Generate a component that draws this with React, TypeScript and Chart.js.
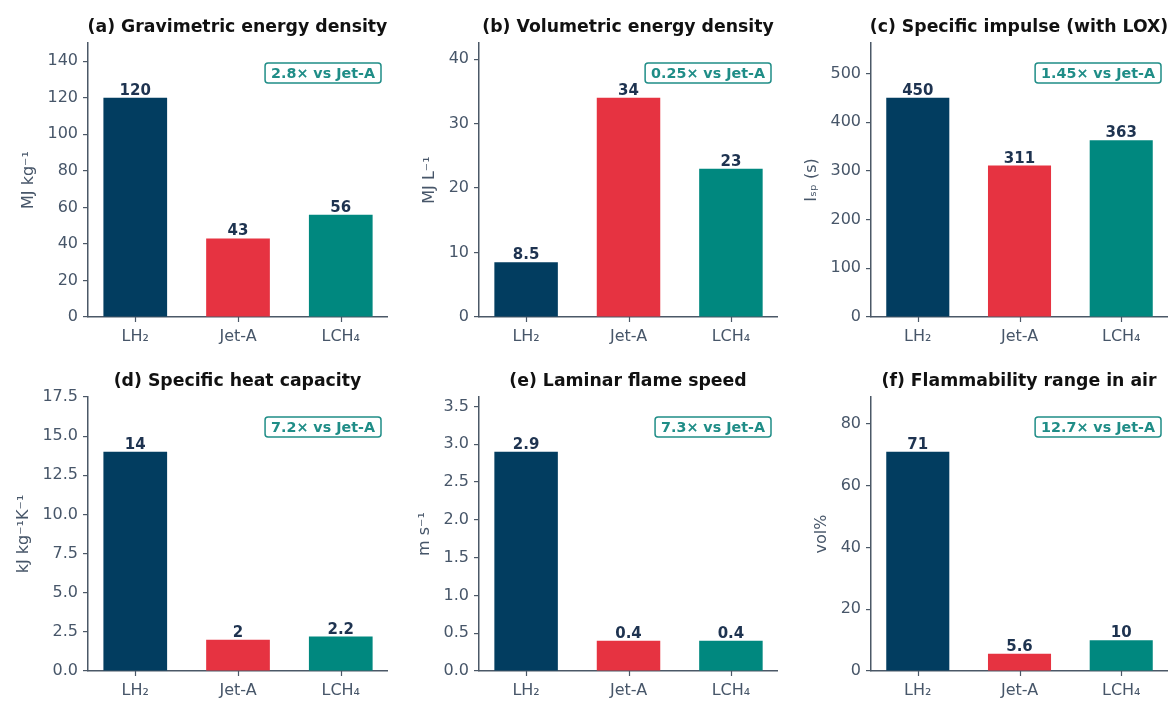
import React, { useEffect, useRef } from "react";
import { Chart, registerables } from "chart.js";

Chart.register(...registerables);

// ---------- data ----------
const categories = ["LH₂", "Jet-A", "LCH₄"];
const gravimetricValues = [120, 43, 56];
const volumetricValues = [8.5, 34, 23];
const impulseValues = [450, 311, 363];
const heatCapacityValues = [14, 2, 2.2];
const flameSpeedValues = [2.9, 0.4, 0.4];
const flammabilityValues = [71, 5.6, 10];

const panelTitles = [
  "(a) Gravimetric energy density",
  "(b) Volumetric energy density",
  "(c) Specific impulse (with LOX)",
  "(d) Specific heat capacity",
  "(e) Laminar flame speed",
  "(f) Flammability range in air",
];
const yAxisTitles = ["MJ kg⁻¹", "MJ L⁻¹", "Iₛₚ (s)", "kJ kg⁻¹K⁻¹", "m s⁻¹", "vol%"];
const ratioLabels = [
  "2.8× vs Jet-A",
  "0.25× vs Jet-A",
  "1.45× vs Jet-A",
  "7.2× vs Jet-A",
  "7.3× vs Jet-A",
  "12.7× vs Jet-A",
];
const yTickSteps = [20, 10, 100, 2.5, 0.5, 20];
const yTickDecimals = [0, 0, 0, 1, 1, 0];

const panelValues = [
  gravimetricValues,
  volumetricValues,
  impulseValues,
  heatCapacityValues,
  flameSpeedValues,
  flammabilityValues,
];

// ---------- style / layout ----------
const BAR_COLORS = ["#023d60", "#e63341", "#00887f"];
const AXIS_COLOR = "#4b5867";
const TICK_TEXT = "#475669";
const VALUE_TEXT = "#1e3350";
const ACCENT = "#1f8d87";
const FONT = "'DejaVu Sans', sans-serif";

const COLS = [
  { cellLeft: 0, cellRight: 389, plotLeft: 88, plotRight: 387 },
  { cellLeft: 390, cellRight: 779, plotLeft: 479, plotRight: 777 },
  { cellLeft: 780, cellRight: 1169, plotLeft: 871, plotRight: 1167 },
];
const ROWS = [
  { cellTop: 0, cellBottom: 351, plotTop: 43, plotBottom: 317 },
  { cellTop: 351, cellBottom: 702, plotTop: 397, plotBottom: 671 },
];

const X_MIN = -0.46;
const X_MAX = 2.45;
const TICK_LEN = 5;
const TICK_PAD = 5;
const TICK_FONT_SIZE = 16;

function formatValue(v: number): string {
  return String(v);
}

function Panel({ index }: { index: number }) {
  const ref = useRef<HTMLCanvasElement | null>(null);
  const col = COLS[index % 3];
  const row = ROWS[Math.floor(index / 3)];
  const width = col.cellRight - col.cellLeft;
  const height = row.cellBottom - row.cellTop;

  useEffect(() => {
    const canvas = ref.current;
    if (!canvas) return;
    const values = panelValues[index];
    const yMax = Math.max(...values) * 1.25;
    const dec = yTickDecimals[index];

    const decorPlugin = {
      id: "decor" + index,
      afterDatasetsDraw(chart: any) {
        const ctx = chart.ctx as CanvasRenderingContext2D;
        const area = chart.chartArea;
        ctx.save();

        // x tick marks at category centres
        const xScale = chart.scales.x;
        ctx.strokeStyle = AXIS_COLOR;
        ctx.lineWidth = 1.2;
        categories.forEach((_, i) => {
          const px = Math.round(xScale.getPixelForValue(i)) + 0.5;
          ctx.beginPath();
          ctx.moveTo(px, area.bottom);
          ctx.lineTo(px, area.bottom + TICK_LEN);
          ctx.stroke();
        });

        // value labels
        const meta = chart.getDatasetMeta(0);
        ctx.font = `bold 15px ${FONT}`;
        ctx.fillStyle = VALUE_TEXT;
        ctx.textAlign = "center";
        ctx.textBaseline = "alphabetic";
        meta.data.forEach((bar: any, i: number) => {
          ctx.fillText(formatValue(values[i]), bar.x, bar.y - 3);
        });

        // panel title
        ctx.font = `bold 17.3px ${FONT}`;
        ctx.fillStyle = "#111111";
        ctx.fillText(panelTitles[index], (area.left + area.right) / 2, area.top - 11);

        // ratio annotation box
        ctx.font = `bold 14.3px ${FONT}`;
        const label = ratioLabels[index];
        const tw = ctx.measureText(label).width;
        const boxH = 20;
        const boxW = tw + 12;
        const bx = area.right - 6 - boxW;
        const by = area.top + 20;
        ctx.beginPath();
        (ctx as any).roundRect(bx, by, boxW, boxH, 3);
        ctx.fillStyle = "#ffffff";
        ctx.fill();
        ctx.lineWidth = 1.5;
        ctx.strokeStyle = ACCENT;
        ctx.stroke();
        ctx.fillStyle = ACCENT;
        ctx.textBaseline = "middle";
        ctx.fillText(label, bx + boxW / 2, by + boxH / 2 + 1);

        // y-axis title
        const yScale = chart.scales.y;
        ctx.font = `${TICK_FONT_SIZE}px ${FONT}`;
        let maxW = 0;
        yScale.ticks.forEach((t: any) => {
          const s = Number(t.value).toFixed(dec);
          maxW = Math.max(maxW, ctx.measureText(s).width);
        });
        const labelLeft = area.left - TICK_LEN - TICK_PAD - maxW;
        const cx = labelLeft - 19;
        const cy = (area.top + area.bottom) / 2;
        ctx.translate(cx, cy);
        ctx.rotate(-Math.PI / 2);
        ctx.font = `16px ${FONT}`;
        ctx.fillStyle = TICK_TEXT;
        ctx.textAlign = "center";
        ctx.textBaseline = "middle";
        ctx.fillText(yAxisTitles[index], 0, 0);
        ctx.restore();
      },
    };

    const chart = new Chart(canvas, {
      type: "bar",
      data: {
        datasets: [
          {
            data: values.map((v, i) => ({ x: i, y: v })),
            backgroundColor: BAR_COLORS,
            borderWidth: 0,
            barPercentage: 0.62,
            categoryPercentage: 1,
          },
        ],
      },
      options: {
        responsive: false,
        animation: false,
        devicePixelRatio: 1,
        layout: {
          padding: {
            left: 0,
            bottom: 0,
            top: row.plotTop - row.cellTop,
            right: col.cellRight - col.plotRight,
          },
        },
        plugins: {
          legend: { display: false },
          tooltip: { enabled: false },
          title: { display: false },
        },
        scales: {
          x: {
            type: "linear",
            min: X_MIN,
            max: X_MAX,
            offset: false,
            afterBuildTicks(scale: any) {
              scale.ticks = categories.map((_, i) => ({ value: i }));
            },
            grid: {
              display: true,
              offset: false,
              drawOnChartArea: false,
              drawTicks: true,
              tickLength: TICK_LEN,
              color: "rgba(0,0,0,0)",
            },
            border: { display: true, color: AXIS_COLOR, width: 1.5 },
            ticks: {
              color: TICK_TEXT,
              font: { family: FONT, size: TICK_FONT_SIZE },
              padding: 5,
              maxRotation: 0,
              autoSkip: false,
              callback: (v: any) => categories[Math.round(Number(v))] ?? "",
            },
            afterFit(scale: any) {
              scale.height = row.cellBottom - row.plotBottom;
            },
          },
          y: {
            min: 0,
            max: yMax,
            grid: {
              display: true,
              drawOnChartArea: false,
              drawTicks: true,
              tickLength: TICK_LEN,
              color: AXIS_COLOR,
              lineWidth: 1.2,
            },
            border: { display: true, color: AXIS_COLOR, width: 1.5 },
            ticks: {
              stepSize: yTickSteps[index],
              includeBounds: false,
              color: TICK_TEXT,
              font: { family: FONT, size: TICK_FONT_SIZE },
              padding: TICK_PAD,
              callback: (v: any) => Number(v).toFixed(dec),
            },
            afterFit(scale: any) {
              scale.width = col.plotLeft - col.cellLeft;
            },
          },
        },
      },
      plugins: [decorPlugin],
    } as any);

    return () => chart.destroy();
  }, [index]);

  return (
    <canvas
      ref={ref}
      width={width}
      height={height}
      style={{
        position: "absolute",
        left: col.cellLeft,
        top: row.cellTop,
        width,
        height,
      }}
    />
  );
}

export default function App() {
  return (
    <div
      style={{
        position: "absolute",
        left: 0,
        top: 0,
        width: 1169,
        height: 702,
        background: "#ffffff",
        overflow: "hidden",
      }}
    >
      {[0, 1, 2, 3, 4, 5].map((i) => (
        <Panel key={i} index={i} />
      ))}
    </div>
  );
}
